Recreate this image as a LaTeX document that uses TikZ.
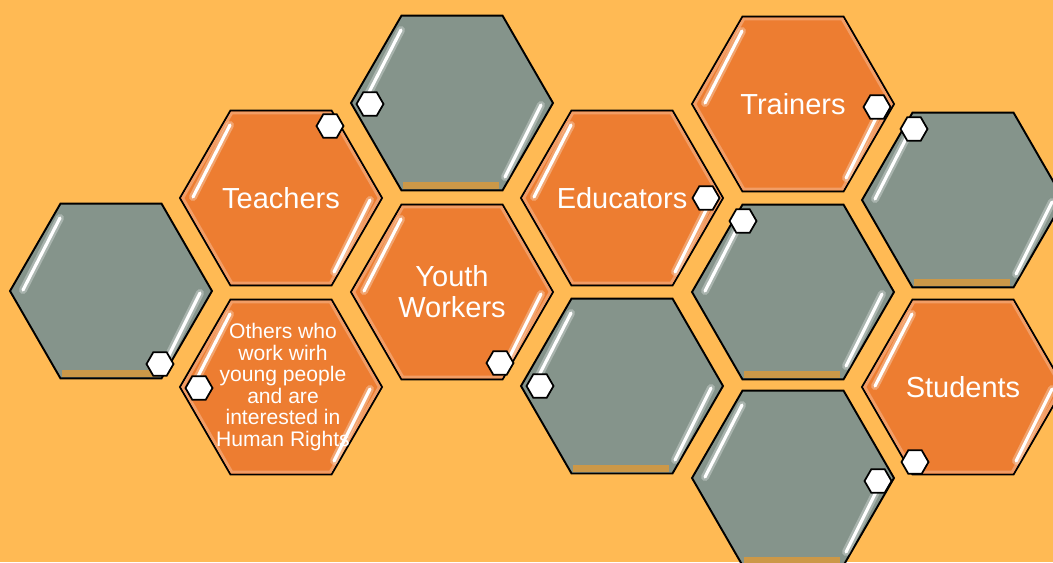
\documentclass[tikz,border=0pt]{standalone}
\usepackage{fontspec}
\setmainfont{Liberation Sans}
\usetikzlibrary{shapes.geometric}

\definecolor{bgorange}{RGB}{255,186,84}
\definecolor{cellorange}{RGB}{237,125,49}
\definecolor{cellgrey}{RGB}{133,148,139}
\definecolor{celltan}{RGB}{204,152,72}

\tikzset{
  cell/.style={regular polygon, regular polygon sides=6, minimum size=4.04cm, inner sep=0pt, draw=black, line width=1.1pt},
  greycell/.style={cell, fill=cellgrey},
  orangecell/.style={cell, fill=cellorange},
  glow/.style={regular polygon, regular polygon sides=6, minimum size=3.93cm, inner sep=0pt, draw=cellorange!75!white, line width=1.6pt},
  marker/.style={regular polygon, regular polygon sides=6, minimum size=0.54cm, inner sep=0pt, fill=white, draw=black, line width=1pt},
  glare/.style={white, line width=1.8pt, line cap=round},
  glareshade/.style={white, opacity=.3, line width=4.5pt, line cap=round},
  celltext/.style={text=white, font=\fontsize{16.5}{19}\selectfont, align=center}
}

\begin{document}
\begin{tikzpicture}[x=0.02cm, y=-0.02cm]
\useasboundingbox (0,0) rectangle (1053,562);
\fill[bgorange] (0,0) rectangle (1053,562);
\clip (0,0) rectangle (1053,562);

% honeycomb cells
\node[greycell] (greyA) at (111,291) {};
\node[orangecell] (teachers) at (281,198) {};
\node[orangecell] (others) at (281,387) {};
\node[greycell] (greyB) at (452,103) {};
\node[orangecell] (youth) at (452,292) {};
\node[orangecell] (educators) at (622,198) {};
\node[greycell] (greyC) at (622,386) {};
\node[orangecell] (trainers) at (793,104) {};
\node[greycell] (greyD) at (793,292) {};
\node[greycell] (greyE) at (793,478) {};
\node[greycell] (greyF) at (963,200) {};
\node[orangecell] (students) at (963,387) {};

% soft rim of the orange cells
\foreach \h in {teachers,others,youth,educators,trainers,students}
  \node[glow] (\h rim) at (\h) {};

% bottom strip of the grey cells
\foreach \h in {greyA,greyB,greyC,greyD,greyE,greyF}
  \fill[celltan] ([shift={(-49,79)}]\h.center) rectangle ([shift={(47,86)}]\h.center);

% glare streaks
\foreach \h in {greyA,teachers,others,greyB,youth,educators,greyC,trainers,greyD,greyE,greyF,students} {
  \draw[glareshade] ([shift={(-51,-73)}]\h.center) -- ([shift={(-88,-1)}]\h.center);
  \draw[glareshade] ([shift={(89,2)}]\h.center) -- ([shift={(53,74)}]\h.center);
  \draw[glare] ([shift={(-51,-73)}]\h.center) -- ([shift={(-88,-1)}]\h.center);
  \draw[glare] ([shift={(89,2)}]\h.center) -- ([shift={(53,74)}]\h.center);
}

% small white markers
\node[marker] (mGreyA) at (160,364) {};
\node[marker] (mTeachers) at (330,126) {};
\node[marker] (mOthers) at (199,388) {};
\node[marker] (mGreyB) at (370,104) {};
\node[marker] (mYouth) at (500,363) {};
\node[marker] (mEducators) at (706,198) {};
\node[marker] (mGreyC) at (540,386) {};
\node[marker] (mTrainers) at (877,107) {};
\node[marker] (mGreyD) at (743,221) {};
\node[marker] (mGreyE) at (878,481) {};
\node[marker] (mGreyF) at (914,129) {};
\node[marker] (mStudents) at (915,462) {};

% labels
\node[celltext] (tTeachers) at (teachers) {Teachers};
\node[celltext, font=\fontsize{12}{12.3}\selectfont] (tOthers) at (283,387) {Others who\\work wirh\\young people\\and are\\interested in\\Human Rights};
\node[celltext, font=\fontsize{16.5}{17.6}\selectfont] (tYouth) at (youth) {Youth\\Workers};
\node[celltext] (tEducators) at (educators) {Educators};
\node[celltext] (tTrainers) at (trainers) {Trainers};
\node[celltext] (tStudents) at (students) {Students};
\end{tikzpicture}
\end{document}
